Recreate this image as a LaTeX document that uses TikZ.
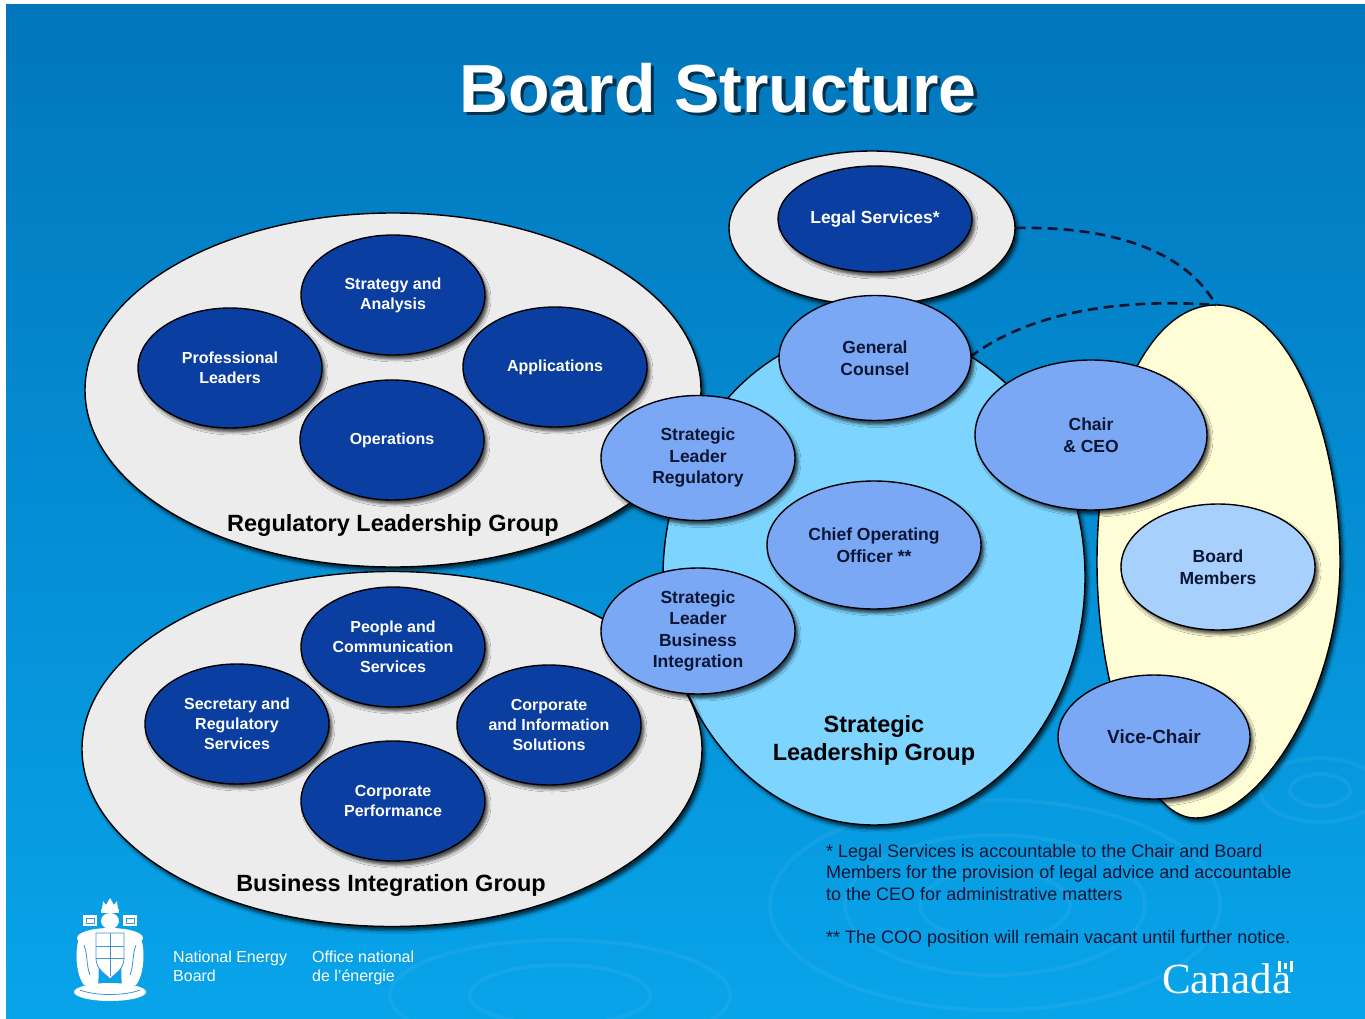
\documentclass[tikz,border=0pt]{standalone}
\usepackage{fontspec}
\setmainfont{Liberation Sans}
\newfontfamily\canadaserif{Liberation Serif}
\usetikzlibrary{shapes.geometric,shadows.blur}

\definecolor{bgtop}{RGB}{1,118,188}
\definecolor{bgbot}{RGB}{8,164,234}
\definecolor{darkov}{RGB}{10,62,160}
\definecolor{midov}{RGB}{122,168,245}
\definecolor{lightov}{RGB}{168,208,253}
\definecolor{slgfill}{RGB}{125,212,255}
\definecolor{grayov}{RGB}{236,236,236}
\definecolor{yellowov}{RGB}{255,253,214}
\definecolor{navytext}{RGB}{12,22,52}
\definecolor{dashcol}{RGB}{10,20,45}
\definecolor{armsline}{RGB}{60,150,215}

\tikzset{
  ovshadow/.style={blur shadow={shadow xshift=3pt, shadow yshift=-4pt, shadow blur radius=3pt, shadow opacity=70}},
  oval/.style={ellipse, draw=black, line width=1.4pt, inner sep=0pt, align=center, ovshadow},
  unitov/.style={oval, fill=darkov, text=white, font=\fontsize{16}{20}\selectfont\bfseries,
    minimum width=184pt, minimum height=120pt},
  leadov/.style={oval, fill=midov, text=navytext, font=\fontsize{17.5}{21.5}\selectfont\bfseries},
  groupov/.style={oval, fill=grayov},
  grouplabel/.style={font=\fontsize{23.5}{28}\selectfont\bfseries, text=black, inner sep=0pt, align=center},
  notetext/.style={font=\fontsize{18}{21.5}\selectfont, text=navytext, align=left, anchor=north west, inner sep=0pt},
  logotext/.style={font=\fontsize{16}{18.5}\selectfont, text=white, align=left, anchor=north west, inner sep=0pt},
  dashlink/.style={draw=dashcol, line width=2.6pt, dash pattern=on 10pt off 6pt},
  ripple/.style={draw=white, draw opacity=0.05, line width=4pt},
  armsfill/.style={fill=white},
}

\begin{document}
\begin{tikzpicture}[x=1pt,y=-1pt]
% page and background
\fill[white] (0,0) rectangle (1365,1019);
\useasboundingbox (0,0) rectangle (1365,1019);
\shade[top color=bgtop, bottom color=bgbot] (6,5) rectangle (1365,1019);

% faint ripples
\draw[ripple] (995,905) ellipse (75pt and 35pt);
\draw[ripple] (995,905) ellipse (150pt and 70pt);
\draw[ripple] (995,905) ellipse (225pt and 105pt);
\draw[ripple] (1320,790) ellipse (30pt and 16pt);
\draw[ripple] (1320,790) ellipse (60pt and 32pt);
\draw[ripple] (560,995) ellipse (90pt and 30pt);
\draw[ripple] (560,995) ellipse (170pt and 55pt);

% title
\node[font=\fontsize{68}{80}\selectfont\bfseries, text=black, opacity=0.6] (titleshadow) at (721.5,91.5) {Board Structure};
\node[font=\fontsize{68}{80}\selectfont\bfseries, text=white] (title) at (718,88) {Board Structure};

% big group shapes
\node[oval, fill=slgfill, minimum width=422pt, minimum height=496pt] (slg) at (874,577) {};
\path[fill=yellowov, draw=black, line width=1.4pt, ovshadow]
  (1216,305) .. controls (1292,305) and (1340,440) .. (1340,562)
  .. controls (1340,690) and (1262,818) .. (1195,818)
  .. controls (1142,818) and (1097,690) .. (1097,562)
  .. controls (1097,420) and (1146,305) .. (1216,305) -- cycle;
\coordinate (boardtop) at (1216,305);
\node[groupov, minimum width=616pt, minimum height=354pt] (reg) at (393,390) {};
\node[groupov, minimum width=620pt, minimum height=355pt] (bus) at (392,749) {};
\node[groupov, minimum width=286pt, minimum height=154pt] (legalouter) at (872,228) {};

% group labels
\node[grouplabel, anchor=base] (reglabel) at (393,531) {Regulatory Leadership Group};
\node[grouplabel, anchor=base] (buslabel) at (391,891) {Business Integration Group};
\node[grouplabel] (slglabel) at (874,740) {Strategic\\Leadership Group};

% regulatory units
\node[unitov] (strat) at (393,295) {Strategy and\\Analysis};
\node[unitov] (prof) at (230,368) {Professional\\Leaders};
\node[unitov] (appl) at (555,367) {Applications};
\node[unitov] (oper) at (392,440) {Operations};

% business integration units
\node[unitov] (people) at (393,647) {People and\\Communication\\Services};
\node[unitov] (secr) at (237,724) {Secretary and\\Regulatory\\Services};
\node[unitov] (cis) at (549,725) {Corporate\\and Information\\Solutions};
\node[unitov] (cperf) at (393,801) {Corporate\\Performance};

% dashed links to the Board
\draw[dashlink] (legalouter.east) .. controls (1110,226) and (1185,250) .. (boardtop);
\draw[dashlink] (970,357) .. controls (1030,312) and (1120,298) .. (boardtop);

% legal services
\node[unitov, font=\fontsize{17.5}{21}\selectfont\bfseries, minimum width=194pt, minimum height=106pt] (legal) at (875,219) {Legal Services*};

% leaders
\node[leadov, minimum width=192pt, minimum height=125pt] (gc) at (875,358) {General\\Counsel};
\node[leadov, minimum width=194pt, minimum height=125pt] (slr) at (698,458) {Strategic\\Leader\\Regulatory};
\node[leadov, minimum width=214pt, minimum height=128pt] (coo) at (874,545) {Chief Operating\\Officer **};
\node[leadov, minimum width=194pt, minimum height=126pt] (slb) at (698,631) {Strategic\\Leader\\Business\\Integration};
\node[leadov, minimum width=232pt, minimum height=150pt] (chair) at (1091,435) {Chair\\\& CEO};
\node[leadov, fill=lightov, minimum width=194pt, minimum height=126pt] (members) at (1218,567) {Board\\Members};
\node[leadov, font=\fontsize{19}{22}\selectfont\bfseries, minimum width=192pt, minimum height=124pt] (vice) at (1154,737) {Vice-Chair};

% footnotes
\node[notetext] (note1) at (826,844) {* Legal Services is accountable to the Chair and Board\\Members for the provision of legal advice and accountable\\to the CEO for administrative matters};
\node[notetext] (note2) at (826,930) {** The COO position will remain vacant until further notice.};

% identifiers
\node[logotext] (neb) at (173,951) {National Energy\\Board};
\node[logotext] (one) at (312,951) {Office national\\de l'énergie};
\node[font=\canadaserif\fontsize{43}{46}\selectfont, text=white, anchor=base west, inner sep=0pt] (canada) at (1162,993) {Canada};
\fill[white] (1278,961) rectangle (1281,972);
\fill[white] (1290,961) rectangle (1293,972);
\fill[white] (1284,963) rectangle (1287,969);

% coat of arms (simplified)
\fill[armsfill] (102,909) -- (103,901) -- (106,905) -- (110,898) -- (114,905) -- (117,901) -- (118,909) -- cycle;
\fill[armsfill] (101,909) rectangle (119,913);
\fill[armsfill] (110,921) ellipse (9pt and 8pt);
\fill[armsfill] (83,915) rectangle (97,926);
\fill[armsfill] (123,915) rectangle (137,926);
\draw[armsline, line width=0.8pt] (86,918) rectangle (94,923) (126,918) rectangle (134,923);
\fill[armsfill] (110,938) ellipse (33pt and 10pt);
\fill[armsfill] (80,935) .. controls (74,950) and (76,975) .. (84,985) -- (98,985) .. controls (100,965) and (98,945) .. (92,932) -- cycle;
\fill[armsfill] (140,935) .. controls (146,950) and (144,975) .. (136,985) -- (122,985) .. controls (120,965) and (122,945) .. (128,932) -- cycle;
\draw[armsline, line width=0.8pt] (84,945) .. controls (88,955) and (86,965) .. (90,975) (136,945) .. controls (132,955) and (134,965) .. (130,975);
\fill[armsfill] (96,933) -- (124,933) -- (124,958) .. controls (124,970) and (114,974) .. (110,979) .. controls (106,974) and (96,970) .. (96,958) -- cycle;
\draw[armsline, line width=0.8pt] (96,946) -- (124,946) (96,958) -- (124,958) (110,933) -- (110,976);
\draw[armsline, line width=0.8pt] (96,933) -- (124,933) -- (124,958) .. controls (124,970) and (114,974) .. (110,979) .. controls (106,974) and (96,970) .. (96,958) -- cycle;
\fill[armsfill] (110,992) ellipse (36pt and 9pt);
\draw[armsline, line width=0.8pt] (80,990) .. controls (95,996) and (125,996) .. (140,990);
\end{tikzpicture}
\end{document}
